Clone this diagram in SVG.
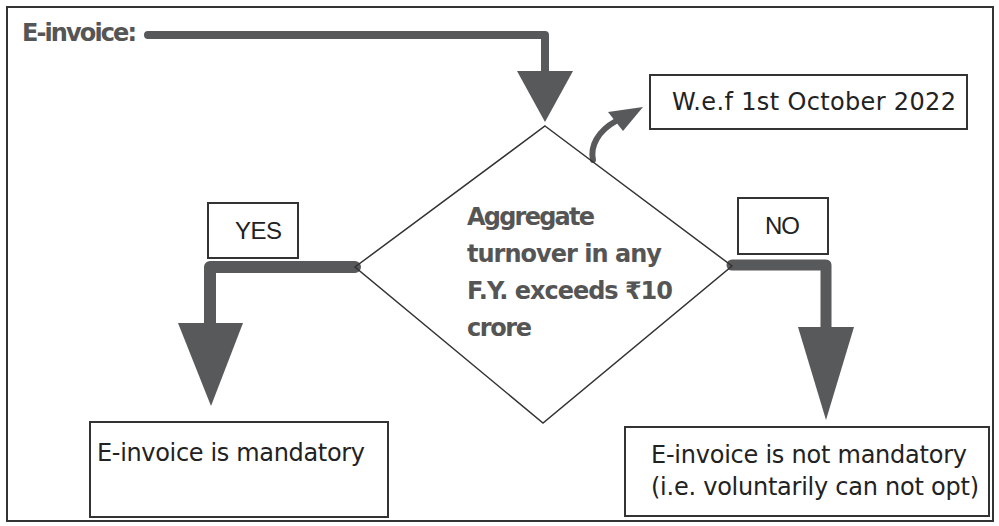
<svg xmlns="http://www.w3.org/2000/svg" width="999" height="526" viewBox="0 0 999 526">
<style>
.box{fill:#fff;stroke:#333;stroke-width:2}
.conn{fill:none;stroke:#58595b;stroke-linejoin:round;stroke-linecap:round}
.head{fill:#58595b}
.bold{font-family:"DejaVu Sans","Noto Sans",sans-serif;font-weight:bold;fill:#555;font-size:24px}
.reg{font-family:"DejaVu Sans","Noto Sans",sans-serif;fill:#222;font-size:24px}
.lab{font-family:"Liberation Sans",Arial,sans-serif;fill:#222;font-size:24px}
</style>
<rect x="0" y="0" width="999" height="526" fill="#fff"/>
<rect x="7" y="7" width="986" height="514" fill="none" stroke="#333" stroke-width="2"/>
<g id="connectors">
<path class="conn" d="M148,35 H545 V72" stroke-width="8"/>
<polygon class="head" points="517,71 573,71 545,122"/>
<path class="conn" d="M593,160 C590,146 598,131 616,121" stroke-width="6"/>
<polygon class="head" points="643,107 608,112 623,131"/>
<path class="conn" d="M355,267 H210 V324" stroke-width="12"/>
<polygon class="head" points="178,323 243,323 211,406"/>
<path class="conn" d="M732,265 H826 V328" stroke-width="11"/>
<polygon class="head" points="798,327 854,327 826,420"/>
</g>
<g id="start">
<text class="bold" x="22" y="41" textLength="115">E-invoice:</text>
</g>
<g id="decision">
<polygon points="545,126 732,266 543,423 355,267" fill="none" stroke="#333" stroke-width="1.5"/>
<text class="bold" x="467" y="225" textLength="128">Aggregate</text>
<text class="bold" x="467" y="262" textLength="195">turnover in any</text>
<text class="bold" x="467" y="299" textLength="206">F.Y. exceeds ₹10</text>
<text class="bold" x="467" y="336" textLength="65">crore</text>
</g>
<g id="wef">
<rect class="box" x="650" y="75" width="317" height="54"/>
<text class="reg" x="672" y="110" font-size="25" textLength="284">W.e.f 1st October 2022</text>
</g>
<g id="yes">
<rect class="box" x="208" y="203" width="90" height="55"/>
<text class="lab" x="235" y="239" textLength="47">YES</text>
</g>
<g id="no">
<rect class="box" x="738" y="198" width="90" height="56"/>
<text class="lab" x="765" y="234" textLength="35">NO</text>
</g>
<g id="mandatory">
<rect class="box" x="90" y="422" width="298" height="95"/>
<text class="reg" x="97" y="461" textLength="268">E-invoice is mandatory</text>
</g>
<g id="notmandatory">
<rect class="box" x="625" y="427" width="364" height="89"/>
<text class="reg" x="651" y="463" textLength="316">E-invoice is not mandatory</text>
<text class="reg" x="651" y="495" textLength="328">(i.e. voluntarily can not opt)</text>
</g>
</svg>
